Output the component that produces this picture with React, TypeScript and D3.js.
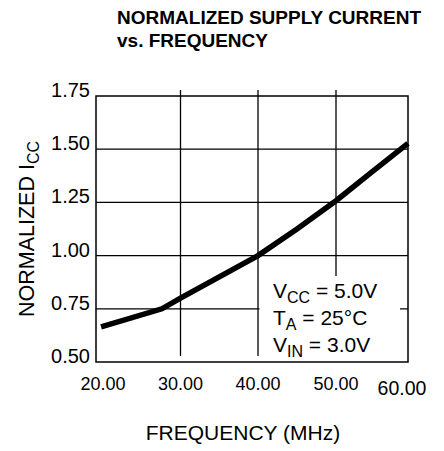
import React, { useRef, useEffect } from 'react';
import * as d3 from 'd3';

// chart data
const freqTicks = [20, 30, 40, 50, 60];
const freqTickLabels = ['20.00', '30.00', '40.00', '50.00', '60.00'];
const iccTicks = [0.5, 0.75, 1.0, 1.25, 1.5, 1.75];
const iccTickLabels = ['0.50', '0.75', '1.00', '1.25', '1.50', '1.75'];

const freqMHz = [20.6, 27.8, 30, 40, 45, 50, 55, 60];
const normIcc = [0.665, 0.75, 0.8, 1.0, 1.125, 1.258, 1.393, 1.527];

const legendLines = [
  { main: 'V', sub: 'CC', rest: ' = 5.0V' },
  { main: 'T', sub: 'A', rest: ' = 25°C' },
  { main: 'V', sub: 'IN', rest: ' = 3.0V' },
];

const FONT = "Arial, 'Liberation Sans', Helvetica, sans-serif";

const App: React.FC = () => {
  const svgRef = useRef<SVGSVGElement>(null);
  const width = 444;
  const height = 451;

  useEffect(() => {
    if (!svgRef.current) return;
    const svg = d3.select(svgRef.current);
    svg.selectAll('*').remove();

    const left = 96;
    const right = 408;
    const top = 96;
    const bottom = 362;

    // the original grid is not evenly spaced, so use a piecewise scale
    const x = d3
      .scaleLinear()
      .domain(freqTicks)
      .range([left, 180.5, 258, 336, right]);
    const y = d3.scaleLinear().domain([0.5, 1.75]).range([bottom, top]);

    svg.attr('font-family', FONT);

    // title
    const title = svg
      .append('text')
      .attr('font-size', 19)
      .attr('font-weight', 'bold')
      .attr('fill', '#000');
    title.append('tspan').attr('x', 117).attr('y', 24).text('NORMALIZED SUPPLY CURRENT');
    title.append('tspan').attr('x', 117).attr('y', 47).text('vs. FREQUENCY');

    // horizontal grid
    svg
      .append('g')
      .selectAll('line')
      .data(iccTicks.slice(1, -1))
      .enter()
      .append('line')
      .attr('x1', left)
      .attr('x2', right)
      .attr('y1', (d) => y(d))
      .attr('y2', (d) => y(d))
      .attr('stroke', '#000')
      .attr('stroke-width', 1.3);

    // vertical grid (drawn a bit above the frame, as in the original)
    svg
      .append('g')
      .selectAll('line')
      .data(freqTicks.slice(1, -1))
      .enter()
      .append('line')
      .attr('x1', (d) => x(d))
      .attr('x2', (d) => x(d))
      .attr('y1', top - 6)
      .attr('y2', bottom - 6)
      .attr('stroke', '#000')
      .attr('stroke-width', 1.3);

    // legend box hides the grid behind it
    svg
      .append('rect')
      .attr('x', x(40) + 1.5)
      .attr('y', 276)
      .attr('width', 400 - x(40) - 1.5)
      .attr('height', bottom - 276)
      .attr('fill', '#fff');

    // frame
    svg
      .append('rect')
      .attr('x', left)
      .attr('y', top)
      .attr('width', right - left)
      .attr('height', bottom - top)
      .attr('fill', 'none')
      .attr('stroke', '#000')
      .attr('stroke-width', 1.5);

    // y tick labels
    svg
      .append('g')
      .selectAll('text')
      .data(iccTicks)
      .enter()
      .append('text')
      .attr('x', 90)
      .attr('y', (d) => y(d) + 1)
      .attr('text-anchor', 'end')
      .attr('font-size', 20)
      .attr('fill', '#000')
      .text((d, i) => iccTickLabels[i]);

    // x tick labels (first and last sit a little off their gridline)
    const xNudge = [7, 0, 0, 0, -6];
    svg
      .append('g')
      .selectAll('text')
      .data(freqTicks)
      .enter()
      .append('text')
      .attr('x', (d, i) => x(d) + xNudge[i])
      .attr('y', (d, i) => (i === 4 ? 395 : 390))
      .attr('text-anchor', 'middle')
      .attr('font-size', (d, i) => (i === 4 ? 19.5 : 18))
      .attr('fill', '#000')
      .text((d, i) => freqTickLabels[i]);

    // axis titles
    svg
      .append('text')
      .attr('x', 243)
      .attr('y', 440)
      .attr('text-anchor', 'middle')
      .attr('font-size', 21)
      .attr('fill', '#000')
      .text('FREQUENCY (MHz)');

    const yTitle = svg
      .append('text')
      .attr('transform', 'translate(34,229) rotate(-90)')
      .attr('text-anchor', 'middle')
      .attr('font-size', 21.5)
      .attr('fill', '#000');
    yTitle.append('tspan').text('NORMALIZED I');
    yTitle.append('tspan').attr('font-size', 16).attr('dy', 5).text('CC');

    // legend text
    const lg = svg.append('g').attr('font-size', 21).attr('fill', '#000');
    legendLines.forEach((l, i) => {
      const t = lg.append('text').attr('x', 273).attr('y', 298 + i * 27);
      t.append('tspan').text(l.main);
      t.append('tspan').attr('font-size', 16).attr('dy', 5).text(l.sub);
      t.append('tspan').attr('dy', -5).text(l.rest);
    });

    // the curve
    const pts: [number, number][] = freqMHz.map((f, i) => [f, normIcc[i]]);
    const line = d3
      .line<[number, number]>()
      .x((d) => x(d[0]))
      .y((d) => y(d[1]));
    svg
      .append('path')
      .datum(pts)
      .attr('d', line)
      .attr('fill', 'none')
      .attr('stroke', '#000')
      .attr('stroke-width', 5.5);
  }, []);

  return (
    <div style={{ position: 'absolute', left: 0, top: 0 }}>
      <svg ref={svgRef} width={width} height={height} style={{ display: 'block', background: '#fff' }} />
    </div>
  );
};

export default App;
